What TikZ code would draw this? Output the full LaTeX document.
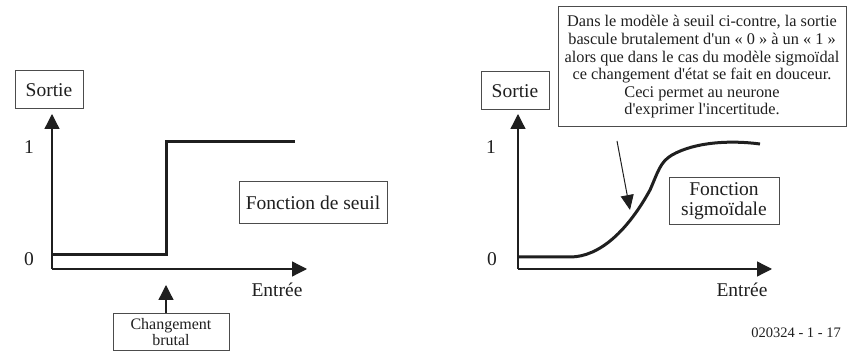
\documentclass[tikz,border=0pt]{standalone}
\usepackage{fontspec}
\setmainfont{Liberation Serif}
\usetikzlibrary{arrows.meta}
\definecolor{myline}{rgb}{0.12,0.12,0.12}
\definecolor{myframe}{rgb}{0.3,0.3,0.3}
\newcommand{\ap}{\textquotesingle}

\begin{document}
\begin{tikzpicture}[x=1pt,y=-1pt,
  lbl/.style={font=\fontsize{19.5}{21}\selectfont,text=myline,inner sep=0pt},
  boxed/.style={lbl,draw=myframe,line width=1pt,inner sep=3pt,minimum width=68,minimum height=38},
  smallbox/.style={boxed,font=\fontsize{16}{16.5}\selectfont,align=center,inner sep=2pt},
  axis/.style={myline,line width=1.3pt,-{Triangle[length=15pt,width=15pt]}},
  pointer/.style={myline,line width=1pt,-{Triangle[length=15pt,width=13pt]}},
  curve/.style={myline,line width=3pt}]
  \useasboundingbox (0,0) rectangle (852,352);

  % threshold model
  \coordinate (lo) at (52,269);
  \coordinate (ly) at (52,114);
  \coordinate (lx) at (307,269);
  \draw[axis] (lo) -- (ly);
  \draw[axis] (lo) -- (lx);
  \node[boxed] (lsortie) at (49,90) {Sortie};
  \node[lbl] (lone) at (29,147) {1};
  \node[lbl] (lzero) at (29,259) {0};
  \node[lbl] (lentree) at (277,290) {Entrée};
  \node[boxed,minimum width=148,minimum height=42] (seuil) at (313,203) {Fonction de seuil};
  \coordinate (jlow) at (166,255);
  \coordinate (jhigh) at (166,142);
  \draw[curve] (52,255) -- (jlow) -- (jhigh) -- (295,142);
  \coordinate (jtip) at (166,285);
  \node[smallbox,minimum width=116,minimum height=37] (brutal) at (171,332) {Changement\\brutal};
  \draw[axis] (brutal.north -| jtip) -- (jtip);

  % sigmoid model
  \coordinate (ro) at (518,269);
  \coordinate (ry) at (518,114);
  \coordinate (rx) at (772,269);
  \draw[axis] (ro) -- (ry);
  \draw[axis] (ro) -- (rx);
  \node[boxed] (rsortie) at (515,91) {Sortie};
  \node[lbl] (rone) at (491,147) {1};
  \node[lbl] (rzero) at (492,259) {0};
  \node[lbl] (rentree) at (742,290) {Entrée};
  \draw[curve] (518,257) -- (570,257)
    .. controls (600,257) and (628,230) .. (650,190)
    .. controls (658,172) and (660,162) .. (672,155)
    .. controls (695,142) and (730,140) .. (760,144);
  \node[boxed,align=center,minimum width=110,minimum height=47,
        font=\fontsize{19.5}{19.5}\selectfont] (sigmo) at (724,201) {Fonction\\sigmoïdale};
  \node[boxed,align=center,minimum width=288,minimum height=120,
        font=\fontsize{16.3}{17.6}\selectfont] (note) at (702,67)
    {Dans le modèle à seuil ci-contre, la sortie\\
     bascule brutalement d\ap un « 0 » à un « 1 »\\
     alors que dans le cas du modèle sigmoïdal\\
     ce changement d\ap état se fait en douceur.\\
     Ceci permet au neurone\\
     d\ap exprimer l\ap incertitude.};
  \coordinate (nfoot) at (617,141);
  \coordinate (ntip) at (630,210);
  \draw[pointer] (nfoot) -- (ntip);
  \node[lbl,anchor=east,font=\fontsize{14.5}{16}\selectfont] (ref) at (841,333) {020324 - 1 - 17};
\end{tikzpicture}
\end{document}
